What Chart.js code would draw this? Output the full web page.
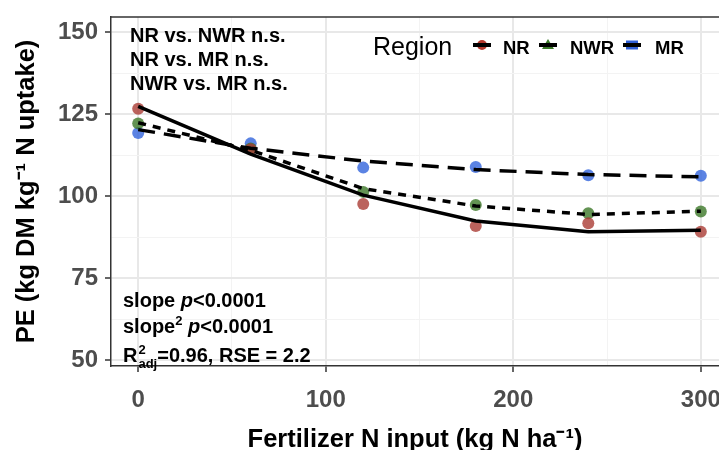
<!DOCTYPE html>
<html>
<head>
<meta charset="utf-8">
<script src="https://cdn.jsdelivr.net/npm/chart.js@4.4.0/dist/chart.umd.min.js"></script>
<style>
  html, body { margin: 0; padding: 0; background: #fff; }
  #wrap { width: 719px; height: 450px; position: relative; }
</style>
</head>
<body>
<div id="wrap"><canvas id="peChart"></canvas></div>
<script>
// fertilizer N rates (kg N/ha)
const nInput = [0, 60, 120, 180, 240, 300];

// observed PE by region
const nrObs  = [126.7, 114.3, 97.6, 90.9, 91.7, 89.1];
const nwrObs = [122.2, 114.5, 101.3, 97.3, 94.8, 95.3];
const mrObs  = [119.3, 116.1, 108.7, 108.9, 106.4, 106.2];

// fitted lines
const nrFit  = [127.4, 112.8, 100.3, 92.4, 89.1, 89.6];
const nwrFit = [122.4, 114.0, 102.3, 97.0, 94.4, 95.4];
const mrFit  = [120.3, 114.6, 110.7, 108.1, 106.6, 105.9];

const xTickLabels = [0, 100, 200, 300];
const yTickLabels = [50, 75, 100, 125, 150];
const regions = ['NR', 'NWR', 'MR'];
const compareNotes = ['NR vs. NWR n.s.', 'NR vs. MR n.s.', 'NWR vs. MR n.s.'];

const FONT = "'Liberation Sans', Arial, Helvetica, sans-serif";

const pointColors = ['rgba(170, 60, 52, 0.8)', 'rgba(60, 120, 40, 0.8)', 'rgba(50, 100, 220, 0.8)'];
const keyColors = ['#B3392D', '#3C7A2A', '#2F5FD6'];

function toXY(ys) {
    return nInput.map((x, i) => ({ x: x, y: ys[i] }));
}

function pointSet(label, ys, idx) {
    return {
        label: label,
        data: toXY(ys),
        showLine: false,
        pointRadius: 6,
        pointHoverRadius: 6,
        pointBorderWidth: 0,
        backgroundColor: pointColors[idx],
        order: 2
    };
}

function lineSet(label, ys, dash) {
    return {
        label: label,
        data: toXY(ys),
        showLine: true,
        borderColor: '#000',
        borderWidth: 3.5,
        borderDash: dash,
        pointRadius: 0,
        tension: 0,
        fill: false,
        order: 1
    };
}

// draw a row of text pieces (normal, italic, super/subscript)
function drawRuns(ctx, x, y, runs) {
    runs.forEach(r => {
        ctx.font = r.font;
        ctx.fillText(r.t, x, y + (r.dy || 0));
        x += ctx.measureText(r.t).width;
    });
}

const overlay = {
    id: 'overlay',
    afterDraw(chart) {
        const ctx = chart.ctx;
        const area = chart.chartArea;
        ctx.save();

        // panel top border
        ctx.strokeStyle = '#333';
        ctx.lineWidth = 1.5;
        ctx.beginPath();
        ctx.moveTo(area.left, area.top);
        ctx.lineTo(area.right, area.top);
        ctx.stroke();

        ctx.fillStyle = '#000';
        ctx.textAlign = 'left';
        ctx.textBaseline = 'alphabetic';

        const b = 'bold 20px ' + FONT;
        const bi = 'italic bold 20px ' + FONT;
        const small = 'bold 13px ' + FONT;

        // pairwise comparisons
        compareNotes.forEach((t, i) => {
            ctx.font = b;
            ctx.fillText(t, 130, 41.5 + i * 24);
        });

        // model stats
        drawRuns(ctx, 123, 307, [
            { t: 'slope ', font: b }, { t: 'p', font: bi }, { t: '<0.0001', font: b }
        ]);
        drawRuns(ctx, 123, 333, [
            { t: 'slope', font: b }, { t: '2', font: small, dy: -8 }, { t: ' ', font: b },
            { t: 'p', font: bi }, { t: '<0.0001', font: b }
        ]);
        ctx.font = b;
        let x = 123;
        ctx.fillText('R', x, 362);
        x += ctx.measureText('R').width + 1;
        ctx.font = small;
        ctx.fillText('2', x, 354);
        ctx.fillText('adj', x, 368);
        x += ctx.measureText('adj').width;
        ctx.font = b;
        ctx.fillText('=0.96, RSE = 2.2', x, 362);

        // legend
        ctx.font = '25px ' + FONT;
        ctx.fillText('Region', 373, 55);
        const keyX = [482, 548, 632];
        const textX = [503, 570, 655];
        regions.forEach((r, i) => {
            const cx = keyX[i], cy = 45;
            ctx.fillStyle = keyColors[i];
            ctx.beginPath();
            if (i === 0) {
                ctx.arc(cx, cy, 5, 0, Math.PI * 2);
            } else if (i === 1) {
                ctx.moveTo(cx, cy - 6);
                ctx.lineTo(cx + 6, cy + 4);
                ctx.lineTo(cx - 6, cy + 4);
                ctx.closePath();
            } else {
                ctx.rect(cx - 6, cy - 4.5, 12, 9);
            }
            ctx.fill();
            ctx.strokeStyle = '#000';
            ctx.lineWidth = 4;
            ctx.beginPath();
            ctx.moveTo(cx - 9, cy);
            ctx.lineTo(cx + 9, cy);
            ctx.stroke();
            ctx.fillStyle = '#000';
            ctx.font = 'bold 18.5px ' + FONT;
            ctx.fillText(r, textX[i], 54);
        });

        ctx.restore();
    }
};

const isMajor = (v, list) => list.indexOf(v) !== -1;

function gridFor(list) {
    return {
        color: c => isMajor(c.tick.value, list) ? '#E8E8E8' : '#F3F3F3',
        lineWidth: c => isMajor(c.tick.value, list) ? 2 : 1,
        tickColor: c => isMajor(c.tick.value, list) ? '#333' : 'rgba(0,0,0,0)',
        tickWidth: 1.5,
        tickLength: 6,
        drawTicks: true
    };
}

const ctx = document.getElementById('peChart').getContext('2d');
new Chart(ctx, {
    type: 'scatter',
    data: {
        datasets: [
            pointSet('NR', nrObs, 0),
            pointSet('NWR', nwrObs, 1),
            pointSet('MR', mrObs, 2),
            lineSet('NR fit', nrFit, []),
            lineSet('NWR fit', nwrFit, [8, 7]),
            lineSet('MR fit', mrFit, [17, 9])
        ]
    },
    options: {
        responsive: true,
        maintainAspectRatio: false,
        animation: false,
        layout: { autoPadding: false, padding: { top: 17, right: 0, bottom: 0, left: 0 } },
        plugins: {
            legend: { display: false },
            tooltip: { enabled: false }
        },
        scales: {
            x: {
                type: 'linear',
                min: -14.5,
                max: 309.7,
                ticks: {
                    stepSize: 50,
                    includeBounds: false,
                    autoSkip: false,
                    maxRotation: 0,
                    padding: 14,
                    color: '#4D4D4D',
                    font: { family: FONT, size: 24, weight: 'bold' },
                    callback: v => isMajor(v, xTickLabels) ? String(v) : ''
                },
                grid: gridFor(xTickLabels),
                border: { display: true, color: '#333', width: 1.5 },
                title: {
                    display: true,
                    text: 'Fertilizer N input (kg N ha\u207B\u00B9)',
                    color: '#000',
                    font: { family: FONT, size: 25.5, weight: 'bold' },
                    padding: { top: 0, bottom: -5 }
                },
                // keep the panel at full width; the 300 label is clipped as in the original
                afterFit: s => { s.height = 84; s.paddingLeft = 0; s.paddingRight = 0; }
            },
            y: {
                type: 'linear',
                min: 48.17,
                max: 154.66,
                ticks: {
                    stepSize: 12.5,
                    includeBounds: false,
                    autoSkip: false,
                    padding: 7,
                    color: '#4D4D4D',
                    font: { family: FONT, size: 24, weight: 'bold' },
                    callback: v => isMajor(v, yTickLabels) ? String(v) : ''
                },
                grid: gridFor(yTickLabels),
                border: { display: true, color: '#333', width: 1.5 },
                title: {
                    display: true,
                    text: 'PE (kg DM kg\u207B\u00B9 N uptake)',
                    color: '#000',
                    font: { family: FONT, size: 25.5, weight: 'bold' },
                    padding: { top: 12, bottom: 0 }
                },
                afterFit: s => { s.width = 111; s.paddingTop = 0; s.paddingBottom = 0; }
            }
        }
    },
    plugins: [overlay]
});
</script>
</body>
</html>
